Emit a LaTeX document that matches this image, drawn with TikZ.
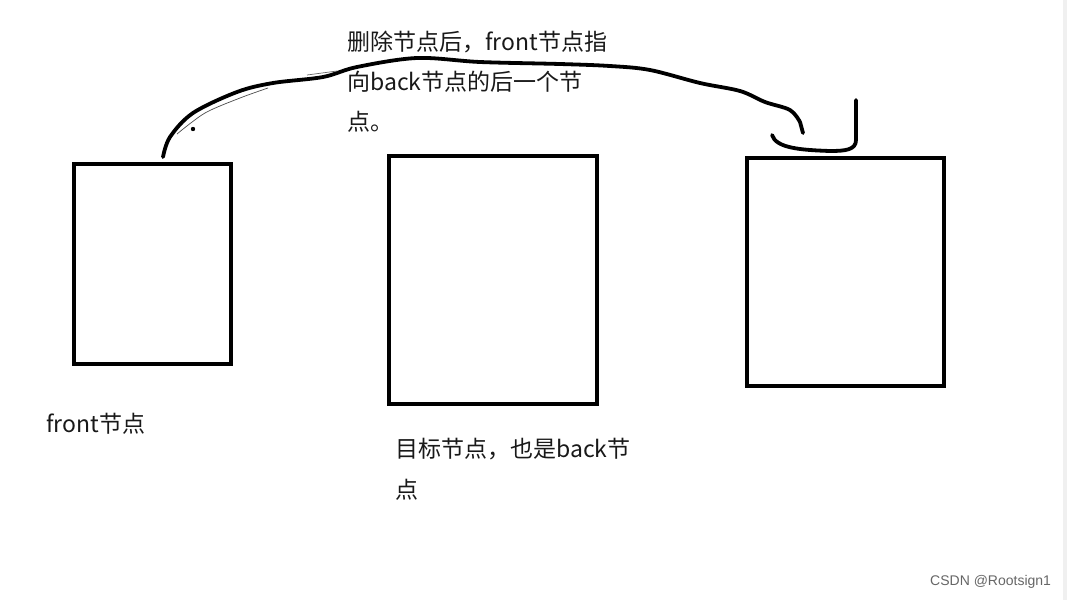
\documentclass[tikz,border=0pt]{standalone}
\usepackage{fontspec}
\setmainfont{Noto Sans CJK SC}
\newfontfamily\wmfont{Liberation Sans}
\begin{document}
\begin{tikzpicture}[x=1pt,y=-1pt,
  box/.style={draw=black,line width=4pt,inner sep=0pt,fill=none},
  lbl/.style={anchor=west,inner sep=0pt,font=\fontsize{23}{23}\selectfont,text=black!90},
  stroke/.style={line width=3.8pt,line cap=round,line join=round},
  wm/.style={anchor=west,inner sep=0pt,font=\wmfont\fontsize{14}{14}\selectfont,text=black!60}]
\useasboundingbox (0,0) rectangle (1067,600);
\fill[white] (0,0) rectangle (1067,600);
\fill[black!6] (1063,0) rectangle (1067,600);
% boxes
\node[box,minimum width=157,minimum height=200] (b1) at (152.5,264) {};
\node[box,minimum width=208,minimum height=248] (b2) at (493,280) {};
\node[box,minimum width=197,minimum height=228] (b3) at (845.5,272) {};
% labels
\node[lbl] (t1) at (347,42) {删除节点后，front节点指};
\node[lbl] (t2) at (347,82) {向back节点的后一个节};
\node[lbl] (t3) at (347,122) {点。};
\node[lbl] (f1) at (46,424) {front节点};
\node[lbl] (g1) at (395,449) {目标节点，也是back节};
\node[lbl] (g2) at (395,490) {点};
\node[wm] (w) at (930,582) {CSDN @Rootsign1};
% connector
\coordinate (s) at (163,157);
\coordinate (e) at (803,133);
\draw[stroke] (s) -- plot[smooth,tension=0.55] coordinates {(163,157) (170,137) (193,113) (237,92) (273,83) (323,77) (357,67) (417,58) (480,62) (560,64) (610,66) (650,70) (700,83) (740,91) (765,102) (790,110) (800,122)} -- (e);
\draw[line width=0.7pt,black!70] plot[smooth,tension=0.5] coordinates {(177,134) (205,113) (240,98) (268,88)};
\draw[line width=0.7pt,black!60] (307,75) -- (337,71);
\fill (193,129) circle (2.2pt);
% hook
\coordinate (h1) at (772,135);
\coordinate (h2) at (856,100);
\draw[stroke] (h1) .. controls (776,148) and (800,150) .. (830,151) .. controls (845,151) and (856,150) .. (856,140) -- (h2);
\end{tikzpicture}
\end{document}
